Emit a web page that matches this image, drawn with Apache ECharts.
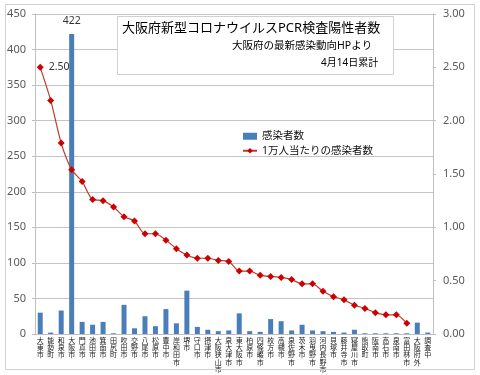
<!DOCTYPE html>
<html>
<head>
<meta charset="utf-8">
<script src="https://cdn.jsdelivr.net/npm/echarts/dist/echarts.min.js"></script>
<style>
html,body{margin:0;padding:0;background:#fff;}
#chart{width:480px;height:375px;}
</style>
</head>
<body>
<div id="chart"></div>
<script>
const categories = ['大東市','能勢町','和泉市','大阪市','門真市','池田市','箕面市','田尻町','吹田市','交野市','八尾市','松原市','豊中市','岸和田市','堺市','守口市','摂津市','大阪狭山市','泉大津市','東大阪市','柏原市','四條畷市','枚方市','高槻市','泉佐野市','茨木市','羽曳野市','河内長野市','貝塚市','藤井寺市','寝屋川市','熊取町','阪南市','高石市','泉南市','富田林市','大阪府外','調査中'];
const cases = [30,2,33,422,17,13,17,1,41,8,25,11,35,15,61,10,6,4,5,29,4,3,21,18,5,13,5,4,3,2,6,1,1,1,1,1,16,2];
const perTenK = [2.50,2.19,1.79,1.54,1.43,1.26,1.25,1.19,1.10,1.06,0.94,0.94,0.88,0.80,0.74,0.71,0.71,0.69,0.68,0.59,0.59,0.55,0.54,0.53,0.51,0.47,0.47,0.40,0.35,0.32,0.27,0.24,0.20,0.18,0.18,0.10,null,null];
const seriesNames = ['感染者数','1万人当たりの感染者数'];
const titleText = '大阪府新型コロナウイルスPCR検査陽性者数';
const subText = '大阪府の最新感染動向HPより';
const dateText = '4月14日累計';

const FONT = "'Noto Sans', 'Noto Sans CJK JP', sans-serif";
const maxCases = Math.max(...cases);

const chart = echarts.init(document.getElementById('chart'), null, {renderer:'canvas'});
const option = {
  animation: false,
  backgroundColor: '#fff',
  textStyle: {fontFamily: FONT},
  grid: {left: 35, right: 47, top: 14, bottom: 41},
  legend: {
    orient: 'vertical', left: 237, top: 126,
    itemWidth: 14, itemHeight: 7, itemGap: 4,
    textStyle: {fontSize: 10.5, color: '#111', fontFamily: FONT},
    data: [{name: seriesNames[0], icon: 'rect'}, {name: seriesNames[1]}]
  },
  xAxis: {
    type: 'category', data: categories,
    axisLine: {lineStyle: {color: '#bfbfbf'}},
    axisTick: {show: false},
    axisLabel: {interval: 0, fontSize: 7, lineHeight: 7.3, color: '#222', margin: 3,
      formatter: s => s.split('').join('\n')}
  },
  yAxis: [
    {type: 'value', min: 0, max: 450, interval: 50,
     axisLine: {show: true, lineStyle: {color: '#bfbfbf'}},
     axisTick: {show: true, length: 3, lineStyle: {color: '#bfbfbf'}},
     splitLine: {lineStyle: {color: '#c4c4c4'}},
     axisLabel: {fontSize: 11, color: '#595959', margin: 9}},
    {type: 'value', min: 0, max: 3, interval: 0.5, position: 'right',
     axisLine: {show: true, lineStyle: {color: '#bfbfbf'}},
     axisTick: {show: true, length: 3, lineStyle: {color: '#bfbfbf'}},
     splitLine: {show: false},
     axisLabel: {fontSize: 11, color: '#595959', margin: 10, formatter: v => v.toFixed(2)}}
  ],
  series: [
    {name: seriesNames[0], type: 'bar', yAxisIndex: 0, barWidth: 5,
     itemStyle: {color: '#4a7ebb'},
     data: cases.map(v => v === maxCases ? {value: v, label: {show: true, position: 'top', distance: 8, fontSize: 10.5, color: '#333'}} : v)},
    {name: seriesNames[1], type: 'line', yAxisIndex: 1, smooth: 0.25,
     symbol: 'diamond', symbolSize: 7,
     lineStyle: {color: '#c0392b', width: 1.2},
     itemStyle: {color: '#cc0000'},
     data: perTenK.map((v, i) => i === 0 ? {value: v, label: {show: true, position: 'right', distance: 5, fontSize: 10.5, color: '#333', formatter: p => p.value.toFixed(2)}} : v)}
  ],
  graphic: [
    {type: 'rect', z: 100, shape: {x: 5.5, y: 4.5, width: 469, height: 365}, style: {fill: 'none', stroke: '#d0d0d0', lineWidth: 1}},
    {type: 'rect', z: 50, shape: {x: 117.5, y: 16.5, width: 276, height: 58}, style: {fill: '#fff', stroke: '#d0d0d0', lineWidth: 1}},
    {type: 'text', z: 51, left: 122, top: 22, style: {text: titleText, font: "13px " + FONT, fill: '#000'}},
    {type: 'text', z: 51, left: 232, top: 41, style: {text: subText, font: "10.5px " + FONT, fill: '#000'}},
    {type: 'text', z: 51, left: 321, top: 58, style: {text: dateText, font: "10px " + FONT, fill: '#000'}}
  ]
};
chart.setOption(option);
</script>
</body>
</html>
